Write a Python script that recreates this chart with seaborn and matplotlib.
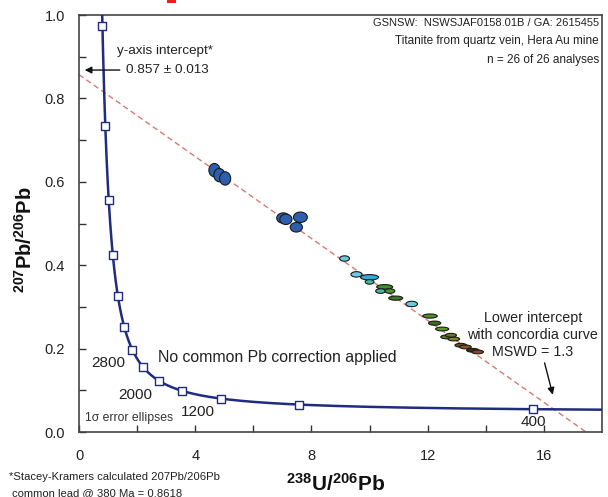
import numpy as np
import pandas as pd
import matplotlib
matplotlib.use("Agg")
import matplotlib.pyplot as plt
from matplotlib.patches import Ellipse, Rectangle
import seaborn as sns

# ---------------- data ----------------
# Analyses: 238U/206Pb, 207Pb/206Pb, ellipse full width / height, fill colour
ell_x = [4.66, 4.83, 5.03, 7.03, 7.12, 7.62, 7.48,
         9.14, 9.55, 10.0, 10.0, 10.52, 10.38, 10.70, 10.90, 11.45,
         12.08, 12.24, 12.50, 12.65, 12.90, 13.14, 13.30, 13.55, 13.72, 12.80]
ell_y = [0.628, 0.616, 0.608, 0.513, 0.510, 0.515, 0.491,
         0.416, 0.378, 0.371, 0.360, 0.348, 0.338, 0.338, 0.321, 0.307,
         0.278, 0.261, 0.247, 0.228, 0.223, 0.208, 0.204, 0.196, 0.192, 0.232]
ell_w = [0.38, 0.38, 0.38, 0.45, 0.42, 0.48, 0.42,
         0.34, 0.38, 0.62, 0.30, 0.55, 0.34, 0.34, 0.48, 0.40,
         0.50, 0.42, 0.45, 0.40, 0.40, 0.40, 0.40, 0.42, 0.40, 0.38]
ell_h = [0.032, 0.032, 0.032, 0.025, 0.025, 0.025, 0.023,
         0.013, 0.013, 0.013, 0.011, 0.011, 0.011, 0.011, 0.010, 0.013,
         0.010, 0.010, 0.009, 0.009, 0.009, 0.009, 0.009, 0.009, 0.009, 0.009]
ell_c = ["#2d5fae"] * 7 + [
    "#6ccbe0", "#6ccbe0", "#2fa9e0", "#4db3a8", "#3f8f2a", "#4db3a8", "#4a9a2a",
    "#3d7a22", "#6ccbe0", "#4a8f2a", "#3d6e1e", "#5a9a2a", "#5d7a1e", "#7a8a1e",
    "#6a4a1a", "#8a5a1a", "#4a2a10", "#8a4a1a", "#6b7a1e"]

# Discordia (regression) line: y-axis intercept and lower end at y = 0
disc_x = [0.0, 17.45]
disc_y = [0.857, 0.0]

# Concordia age marks (Ma) and labelled ages
marker_ages = [400, 800, 1200, 1600, 2000, 2400, 2800, 3200, 3600, 4000, 4400, 4800, 5200]
label_ages = ["2800", "2000", "1200", "400"]
label_pos_x = [1.02, 1.93, 4.10, 15.65]
label_pos_y = [0.165, 0.089, 0.048, 0.024]

# Sample information lines (top right)
info_lines = ["GSNSW:  NSWSJAF0158.01B / GA: 2615455",
              "Titanite from quartz vein, Hera Au mine",
              "n = 26 of 26 analyses"]

# Decay constants for the Tera-Wasserburg concordia
L238 = 1.55125e-10
L235 = 9.8485e-10
U_RATIO = 137.88


def tw(age_ma):
    t = np.asarray(age_ma, dtype=float) * 1e6
    e8 = np.exp(L238 * t) - 1.0
    e5 = np.exp(L235 * t) - 1.0
    return 1.0 / e8, e5 / e8 / U_RATIO


curve_ages = np.geomspace(300, 5600, 600)
cx, cy = tw(curve_ages)
mx, my = tw(marker_ages)
curve_df = pd.DataFrame({"x": cx, "y": cy})
mark_df = pd.DataFrame({"x": mx, "y": my})
disc_df = pd.DataFrame({"x": disc_x, "y": disc_y})

# ---------------- figure ----------------
sns.set_theme(style="ticks")
plt.rcParams["font.family"] = ["Liberation Sans", "DejaVu Sans"]
plt.rcParams["mathtext.fontset"] = "custom"
plt.rcParams["mathtext.rm"] = "Liberation Sans"
plt.rcParams["mathtext.bf"] = "Liberation Sans:bold"

fig = plt.figure(figsize=(6.08, 4.97), dpi=100)
ax = fig.add_axes([79 / 608, 1 - 432 / 497, 523 / 608, 417 / 497])
ax.set_facecolor("white")

sns.lineplot(data=disc_df, x="x", y="y", ax=ax, color="#d77a70", lw=1.0,
             linestyle=(0, (4, 2.5)), zorder=2)
sns.lineplot(data=curve_df, x="x", y="y", ax=ax, color="#1f2c80", lw=1.8,
             sort=False, estimator=None, zorder=3)
sns.scatterplot(data=mark_df, x="x", y="y", ax=ax, marker="s", s=30,
                facecolor="white", edgecolor="#1f2c80", linewidth=1.0, zorder=4)

for x, y, w, h, c in zip(ell_x, ell_y, ell_w, ell_h, ell_c):
    ax.add_patch(Ellipse((x, y), w, h, facecolor=c, edgecolor="#1a1a1a",
                         lw=0.8, zorder=5))

ax.set_xlim(0, 18)
ax.set_ylim(0, 1.0)
ax.set_xticks([0, 4, 8, 12, 16])
ax.set_xticks([2, 6, 10, 14], minor=True)
ax.set_yticks([0.0, 0.2, 0.4, 0.6, 0.8, 1.0])
ax.set_yticks([0.1, 0.3, 0.5, 0.7, 0.9], minor=True)
ax.set_xticklabels(["0", "4", "8", "12", "16"])
ax.set_yticklabels(["0.0", "0.2", "0.4", "0.6", "0.8", "1.0"])
ax.tick_params(which="both", direction="in", length=5, width=1.0, color="#333333",
               labelsize=10.5, labelcolor="#222222")
ax.tick_params(axis="x", which="both", pad=12)
ax.tick_params(axis="y", which="both", pad=10)
for s in ax.spines.values():
    s.set_visible(True)
    s.set_color("#444444")
    s.set_linewidth(1.2)

ax.set_xlabel("")
ax.set_ylabel("")
fig.text(336 / 608, 1 - 484 / 497, r"$\mathbf{^{238}U/^{206}Pb}$", ha="center",
         va="center", fontsize=15, color="#111111")
fig.text(25 / 608, 1 - 240 / 497, r"$\mathbf{^{207}Pb/^{206}Pb}$", ha="center",
         va="center", rotation=90, fontsize=14.5, color="#111111")

# age labels
for t, x, y in zip(label_ages, label_pos_x, label_pos_y):
    ax.text(x, y, t, ha="center", va="center", fontsize=11, color="#222222", zorder=6)

ax.text(0.22, 0.033, "1σ error ellipses", ha="left", va="center", fontsize=8.8,
        color="#333333")
ax.text(2.72, 0.178, "No common Pb correction applied", ha="left", va="center",
        fontsize=11.4, color="#222222")

# y-axis intercept annotation
ax.text(2.95, 0.913, "y-axis intercept*", ha="center", va="center", fontsize=9.7,
        color="#222222")
ax.text(3.05, 0.868, "0.857 ± 0.013", ha="center", va="center", fontsize=9.7,
        color="#222222")
ax.annotate("", xy=(0.1, 0.868), xytext=(1.5, 0.868),
            arrowprops=dict(arrowstyle="-|>", color="#111111", lw=1.0,
                            mutation_scale=10))

# lower intercept annotation
ax.text(15.62, 0.233, "Lower intercept\nwith concordia curve\nMSWD = 1.3",
        ha="center", va="center", fontsize=10.3, color="#222222", linespacing=1.25)
ax.annotate("", xy=(16.33, 0.083), xytext=(16.0, 0.172),
            arrowprops=dict(arrowstyle="-|>", color="#111111", lw=1.0,
                            mutation_scale=10))

# sample info (top right), one text per line
for line, yy, fs in zip(info_lines, [0.982, 0.9365, 0.891], [8.0, 8.5, 8.5]):
    ax.text(17.9, yy, line, ha="right", va="center", fontsize=fs, color="#222222")

# footnote
fig.text(9 / 608, 1 - 477 / 497, "*Stacey-Kramers calculated 207Pb/206Pb",
         ha="left", va="center", fontsize=8.1, color="#222222")
fig.text(12 / 608, 1 - 493 / 497, "common lead @ 380 Ma = 0.8618",
         ha="left", va="center", fontsize=8.1, color="#222222")

# small red mark at the top edge
fig.patches.append(Rectangle((167 / 608, 1 - 3 / 497), 9 / 608, 4 / 497,
                             transform=fig.transFigure, facecolor="#e8201a",
                             edgecolor="none"))

fig.savefig("out.png", dpi=100, facecolor="white")
